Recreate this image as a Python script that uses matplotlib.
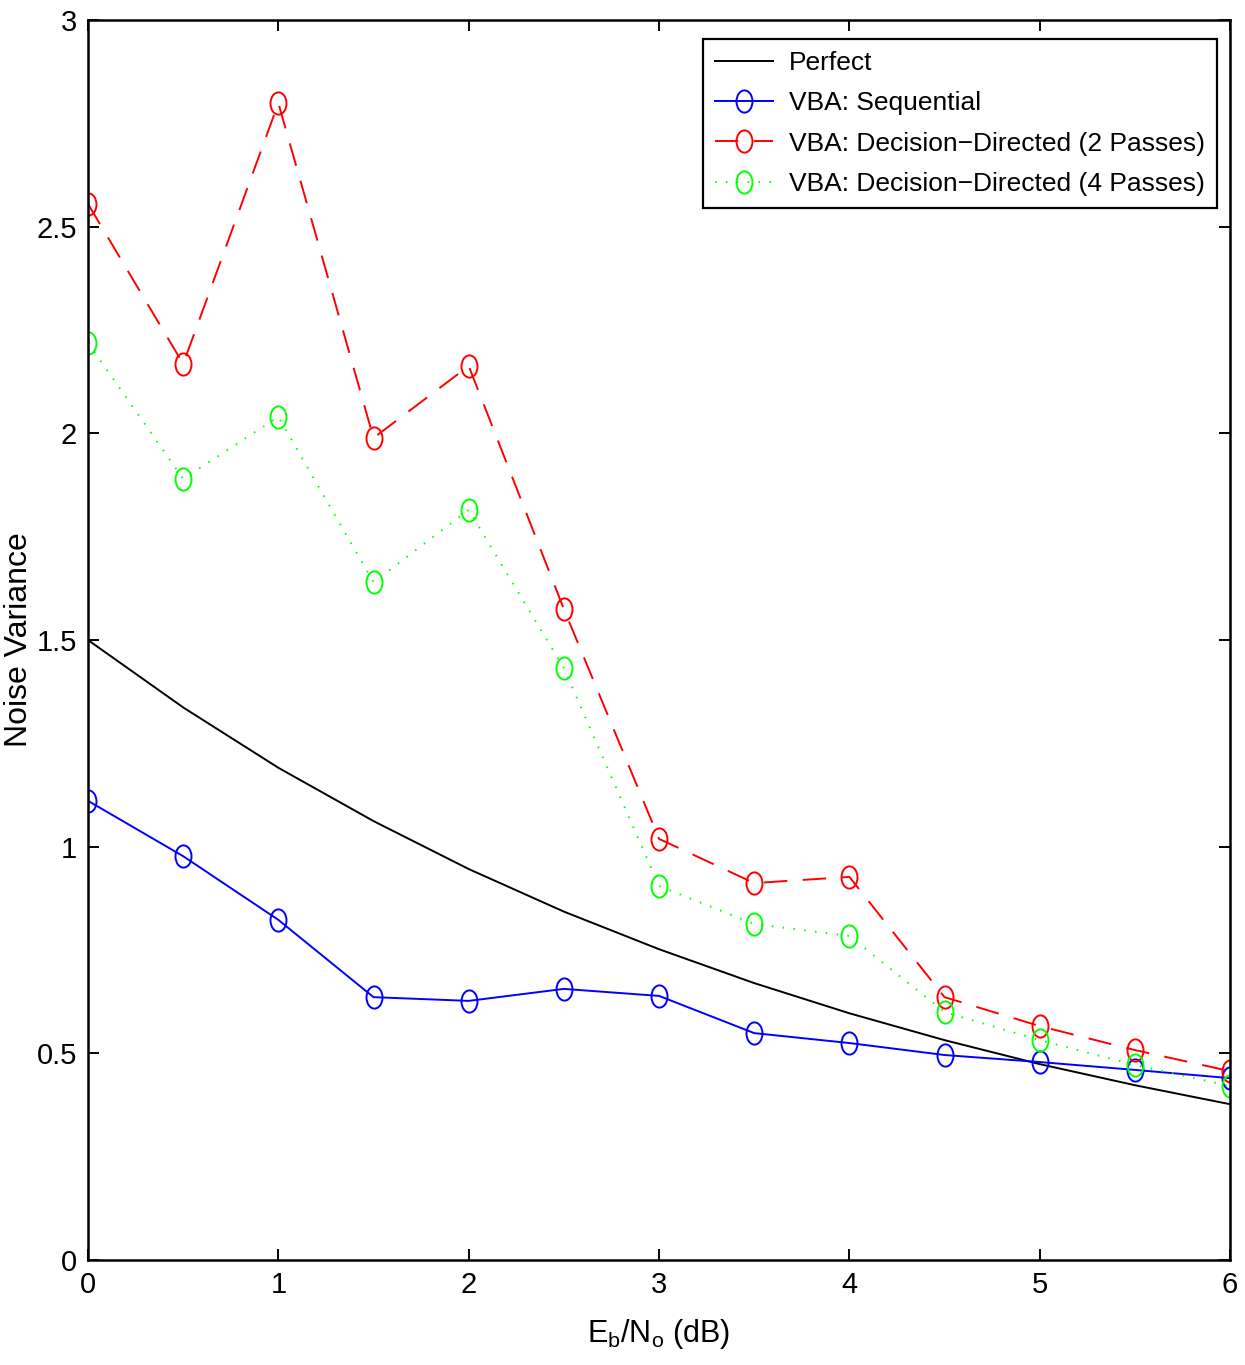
import matplotlib
matplotlib.use("Agg")
import matplotlib.pyplot as plt
from matplotlib.path import Path
from matplotlib.transforms import Affine2D

plt.rcParams['font.family'] = ['Liberation Sans', 'DejaVu Sans']

ebno = [0, 0.5, 1, 1.5, 2, 2.5, 3, 3.5, 4, 4.5, 5, 5.5, 6]
perfect = [1.5, 1.337, 1.191, 1.062, 0.946, 0.843, 0.752, 0.670, 0.597,
           0.532, 0.474, 0.423, 0.377]
vba_seq = [1.111, 0.977, 0.823, 0.636, 0.627, 0.656, 0.639, 0.549, 0.525,
           0.496, 0.479, 0.460, 0.440]
vba_dd2 = [2.555, 2.168, 2.799, 1.989, 2.163, 1.575, 1.019, 0.912, 0.927,
           0.636, 0.566, 0.508, 0.457]
vba_dd4 = [2.219, 1.890, 2.040, 1.640, 1.815, 1.432, 0.905, 0.813, 0.784,
           0.600, 0.532, 0.472, 0.421]

# squashed circle marker, as in the resized matlab figure
ellipse = Path.unit_circle().transformed(Affine2D().scale(0.72, 1.0))

fig = plt.figure(figsize=(12.45, 13.65), dpi=100)
ax = fig.add_axes([0.0707, 0.0769, 0.9173, 0.9084])

mk = dict(marker=ellipse, markersize=16, markerfacecolor='none', markeredgewidth=1.4)
ax.plot(ebno, perfect, color='black', lw=1.4, label='Perfect')
ax.plot(ebno, vba_seq, color='blue', lw=1.4, markeredgecolor='blue', label='VBA: Sequential', **mk)
ax.plot(ebno, vba_dd2, color='red', lw=1.4, ls=(0, (12, 8)), markeredgecolor='red',
        label='VBA: Decision\u2212Directed (2 Passes)', **mk)
ax.plot(ebno, vba_dd4, color='#00ff00', lw=1.4, ls=(0, (0.8, 4.8)), markeredgecolor='#00ff00',
        label='VBA: Decision\u2212Directed (4 Passes)', **mk)

ax.set_xlim(0, 6)
ax.set_ylim(0, 3)
ax.set_xticks(range(7))
ax.set_yticks([0, 0.5, 1, 1.5, 2, 2.5, 3])
ax.set_yticklabels(['0', '0.5', '1', '1.5', '2', '2.5', '3'])
ax.tick_params(direction='in', length=8, width=1.4, labelsize=21, top=True, right=True, pad=8)
for sp in ax.spines.values():
    sp.set_linewidth(1.8)

ax.set_xlabel(r'E$_\mathregular{b}$/N$_\mathregular{o}$ (dB)', fontsize=22)
ax.xaxis.set_label_coords(0.5, -0.046)
ax.set_ylabel('Noise Variance', fontsize=23)
ax.yaxis.set_label_coords(-0.047, 0.5)

leg = ax.legend(loc='upper right', bbox_to_anchor=(0.9886, 0.9847), borderaxespad=0,
                fontsize=19, fancybox=False, edgecolor='black', framealpha=1,
                handlelength=2.2, borderpad=0.45, labelspacing=0.62, handletextpad=0.6)
leg.get_frame().set_linewidth(1.6)

fig.savefig('out.png', dpi=100)
